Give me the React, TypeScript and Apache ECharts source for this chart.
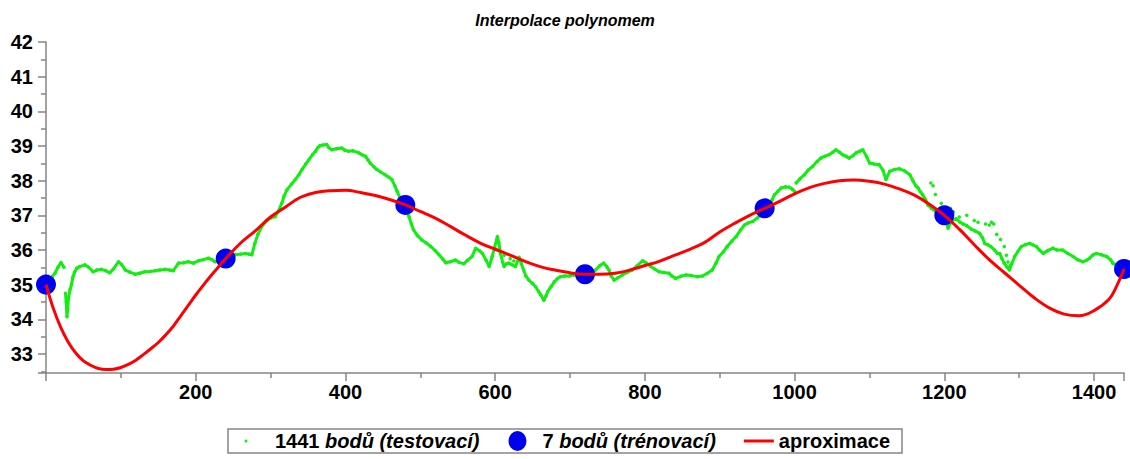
import React, { useEffect, useRef } from "react";
import * as echarts from "echarts";

const TITLE = "Interpolace polynomem";
const NAME_TEST = "1441 bodů (testovací)";
const NAME_TRAIN = "7 bodů (trénovací)";
const NAME_APPROX = "aproximace";

// test points (main trace); null marks a break in the trace
const testX = [0,4,8,12,16,20,24,25,26,27,28,29,30,32,34,36,38,41,45,52,57,63,68,74,80,85,90,97,101,106,112,119,125,132,139,146,152,159,165,170,177,184,190,197,204,210,217,222,226,233,240,247,253,260,266,271,275,279,283,288,295,300,306,310,315,318,322,328,333,338,342,347,351,356,360,363,366,370,375,378,382,388,395,399,404,410,418,422,427,430,433,438,442,447,453,458,462,466,469,473,478,482,485,488,491,496,502,508,514,520,525,530,534,540,547,552,558,563,569,574,579,583,588,592,596,603,605,607,610,612,615,618,622,627,632,635,638,641,645,650,654,658,661,665,668,670,675,679,683,687,693,699,705,712,720,727,734,740,745,749,752,755,759,764,770,776,783,790,797,802,808,813,819,825,832,836,841,848,855,862,870,877,883,890,895,899,905,910,916,922,928,933,938,944,950,955,960,966,970,973,978,982,988,993,997,1000,1001,1002,1007,1013,1018,1024,1030,1035,1040,1046,1051,1055,1060,1064,1069,1073,1078,1082,1087,1091,1096,1100,1106,1113,1118,1122,1127,1133,1140,1147,1154,1158,1162,1165,1168,1171,1175,1178,1183,1189,1194,1200,1205,1210,1216,1221,1225,1230,1236,1241,1247,1251,1254,1258,1262,1267,1271,1274,1277,1280,1284,1287,1290,1294,1298,1303,1308,1314,1318,1323,1327,1332,1338,1345,1350,1358,1365,1372,1378,1385,1390,1394,1398,1403,1410,1417,1422,1425,1430,1435,1440];
const testY = [35.00,35.10,35.22,35.33,35.50,35.64,35.50,null,34.75,34.50,34.07,34.30,34.60,34.85,35.00,35.23,35.35,35.47,35.52,35.57,35.50,35.37,35.42,35.44,35.40,35.34,35.45,35.66,35.58,35.42,35.36,35.30,35.33,35.37,35.38,35.40,35.42,35.44,35.42,35.40,35.62,35.63,35.66,35.62,35.69,35.72,35.76,35.72,35.66,35.70,35.75,35.80,35.86,35.88,35.90,35.88,35.86,36.19,36.45,36.67,36.85,36.92,36.96,37.10,37.35,37.55,37.74,37.90,38.03,38.18,38.32,38.48,38.60,38.75,38.85,38.95,39.01,39.03,39.04,38.95,38.89,38.92,38.94,38.88,38.85,38.86,38.80,38.75,38.70,38.60,38.51,38.40,38.32,38.25,38.17,38.10,38.03,37.85,37.69,37.50,37.30,37.12,36.96,36.75,36.58,36.42,36.29,36.20,36.10,35.98,35.86,35.74,35.63,35.66,35.71,35.64,35.60,35.70,35.81,36.05,35.98,35.90,35.70,35.52,35.81,36.39,36.20,35.90,35.65,35.52,35.60,35.62,35.58,35.52,35.79,35.60,35.42,35.25,35.13,35.03,34.94,34.80,34.70,34.55,34.68,34.79,34.95,35.08,35.17,35.23,35.25,35.25,35.28,35.30,35.30,35.35,35.42,35.55,35.62,35.52,35.42,35.25,35.13,35.20,35.28,35.35,35.42,35.55,35.69,35.62,35.52,35.45,35.37,35.35,35.33,35.25,35.18,35.24,35.28,35.26,35.23,35.25,35.32,35.42,35.62,35.81,35.95,36.10,36.25,36.39,36.58,36.72,36.78,36.82,36.92,37.01,37.15,37.30,37.45,37.59,37.70,37.79,37.82,37.81,37.75,37.69,null,37.93,38.05,38.17,38.30,38.41,38.55,38.65,38.70,38.75,38.82,38.89,38.82,38.75,38.70,38.65,38.72,38.80,38.85,38.89,38.70,38.51,38.48,38.46,38.30,38.03,38.27,38.32,38.34,38.28,38.17,38.00,37.85,37.79,37.68,37.59,37.45,37.30,37.20,37.10,37.05,37.00,36.63,36.85,36.90,36.80,36.75,36.70,36.60,36.55,36.48,36.35,36.19,36.15,36.10,36.00,35.90,35.90,35.75,35.62,35.50,35.42,35.60,35.81,35.95,36.10,36.15,36.19,36.15,36.10,36.00,35.90,35.98,36.05,36.00,36.00,35.90,35.81,35.72,35.66,35.70,35.76,35.85,35.90,35.86,35.81,35.72,35.62,35.55,35.50,35.45];

// scattered test points off the main trace
const outlierX = [600,612,620,625,1182,1185,1188,1196,1208,1212,1220,1230,1240,1245,1255,1260,1263,1266,1270,1275,1280,1283,1285,1288];
const outlierY = [36.05,35.85,35.75,35.68,37.93,37.85,37.60,37.35,37.20,37.10,36.95,37.00,36.85,36.80,36.75,36.72,36.80,36.75,36.45,36.30,36.10,35.85,35.65,35.55];

// training points
const trainX = [0, 240, 480, 720, 960, 1200, 1440];
const trainY = [35.0, 35.75, 37.3, 35.3, 37.2, 37.0, 35.45];

// approximation curve
const approxX = [0,10,20,30,40,50,60,70,80,90,100,110,120,130,140,150,160,170,180,190,200,210,220,230,240,260,280,300,320,340,360,380,400,420,440,460,480,500,520,540,560,580,600,620,640,660,680,700,720,740,760,780,800,820,840,860,880,900,920,940,960,980,1000,1020,1040,1060,1080,1100,1120,1140,1160,1180,1200,1220,1240,1260,1280,1300,1320,1340,1360,1380,1400,1420,1430,1440];
const approxY = [35.00,34.30,33.75,33.33,33.02,32.80,32.67,32.58,32.55,32.56,32.61,32.70,32.82,32.98,33.15,33.33,33.55,33.80,34.10,34.40,34.70,34.98,35.25,35.50,35.75,36.20,36.56,36.95,37.24,37.52,37.66,37.71,37.72,37.66,37.57,37.45,37.30,37.11,36.92,36.68,36.43,36.20,36.02,35.85,35.67,35.52,35.42,35.34,35.30,35.30,35.33,35.42,35.55,35.68,35.85,36.02,36.22,36.52,36.77,37.00,37.20,37.40,37.62,37.80,37.92,38.00,38.02,37.98,37.90,37.76,37.58,37.32,37.00,36.60,36.15,35.72,35.35,34.98,34.62,34.33,34.15,34.10,34.25,34.58,34.95,35.45];

const FONT = "'Liberation Sans', Arial, sans-serif";
const GREEN = "#11ee11";
const BLUE = "#0000f0";
const RED = "#ff0000";
const AXIS = "#858585";
const LEG_FS = 20;

export default function App() {
  const ref = useRef<HTMLDivElement>(null);
  useEffect(() => {
    if (!ref.current) return;
    const chart = echarts.init(ref.current, null, { renderer: "svg" });
    const trace = testX.map((x, i) => [x, testY[i] === null ? "-" : testY[i]]);
    const allTest = testX
      .map((x, i) => [x, testY[i]])
      .filter((p) => p[1] !== null)
      .concat(outlierX.map((x, i) => [x, outlierY[i]]));
    const train = trainX.map((x, i) => [x, trainY[i]]);
    const approx = approxX.map((x, i) => [x, approxY[i]]);

    chart.setOption({
      animation: false,
      backgroundColor: "#ffffff",
      title: {
        text: TITLE,
        left: "center",
        top: 7,
        textStyle: { fontFamily: FONT, fontSize: 16, fontStyle: "italic", fontWeight: "bold", color: "#000" },
      },
      grid: { left: 46, right: 6, top: 42, bottom: 86, containLabel: false },
      legend: {
        left: "center",
        top: 429,
        orient: "horizontal",
        borderColor: AXIS,
        borderWidth: 1.5,
        borderRadius: 0,
        padding: [2, 12, 2, 12],
        itemGap: 28,
        itemWidth: 30,
        itemHeight: 20,
        data: [
          { name: NAME_TEST, icon: "path://M0 0M30 20M4.5 10a1.5 1.5 0 1 0 3 0a1.5 1.5 0 1 0 -3 0z" },
          { name: NAME_TRAIN, icon: "path://M0 0M30 20M1 10a9 10 0 1 0 18 0a9 10 0 1 0 -18 0z" },
          { name: NAME_APPROX, icon: "path://M0 0M30 20M0 8.5h30v3h-30z" },
        ],
        formatter: (name: string) => {
          const m = name.match(/^(\S+) (.*)$/);
          if (name !== NAME_APPROX && m) return `{n|${m[1]}} {i|${m[2]}}`;
          return `{n|${name}}`;
        },
        textStyle: {
          fontFamily: FONT,
          fontSize: LEG_FS,
          fontWeight: "bold",
          color: "#000",
          rich: {
            n: { fontFamily: FONT, fontSize: LEG_FS, fontWeight: "bold", color: "#000" },
            i: { fontFamily: FONT, fontSize: LEG_FS, fontWeight: "bold", fontStyle: "italic", color: "#000" },
          },
        },
      },
      xAxis: {
        type: "value",
        min: 0,
        max: 1440,
        interval: 200,
        splitLine: { show: false },
        axisLine: { show: true, lineStyle: { color: AXIS, width: 1.5 } },
        axisTick: { show: true, length: 8, lineStyle: { color: AXIS, width: 1.5 } },
        minorTick: { show: true, splitNumber: 2, length: 5, lineStyle: { color: AXIS, width: 1.5 } },
        axisLabel: {
          showMinLabel: false,
          showMaxLabel: false,
          margin: 9,
          formatter: (v: number) => String(v),
          fontFamily: FONT,
          fontSize: 20,
          fontWeight: "bold",
          color: "#000",
        },
      },
      yAxis: {
        type: "value",
        min: 32.45,
        max: 42,
        splitNumber: 10,
        splitLine: { show: false },
        axisLine: { show: true, lineStyle: { color: AXIS, width: 1.5 } },
        axisTick: { show: true, length: 8, lineStyle: { color: AXIS, width: 1.5 } },
        minorTick: { show: true, splitNumber: 2, length: 5, lineStyle: { color: AXIS, width: 1.5 } },
        axisLabel: {
          showMinLabel: false,
          margin: 13,
          formatter: (v: number) => String(v),
          fontFamily: FONT,
          fontSize: 20,
          fontWeight: "bold",
          color: "#000",
        },
      },
      series: [
        {
          name: NAME_TEST,
          type: "scatter",
          data: allTest,
          symbol: "circle",
          symbolSize: 3.5,
          itemStyle: { color: GREEN, opacity: 1 },
          clip: false,
          z: 1,
        },
        {
          name: NAME_TEST,
          type: "line",
          data: trace,
          showSymbol: false,
          symbol: "none",
          connectNulls: false,
          lineStyle: { color: GREEN, width: 3 },
          itemStyle: { color: GREEN },
          z: 1,
        },
        {
          name: NAME_TRAIN,
          type: "scatter",
          data: train,
          symbol: "circle",
          symbolSize: 20,
          itemStyle: { color: BLUE, opacity: 1 },
          clip: false,
          z: 3,
        },
        {
          name: NAME_APPROX,
          type: "line",
          data: approx,
          smooth: 0.4,
          showSymbol: false,
          symbol: "none",
          lineStyle: { color: RED, width: 3 },
          itemStyle: { color: RED },
          z: 4,
        },
      ],
    });
    return () => chart.dispose();
  }, []);
  return (
    <div
      ref={ref}
      style={{ position: "absolute", left: 0, top: 0, width: 1130, height: 459 }}
    />
  );
}
